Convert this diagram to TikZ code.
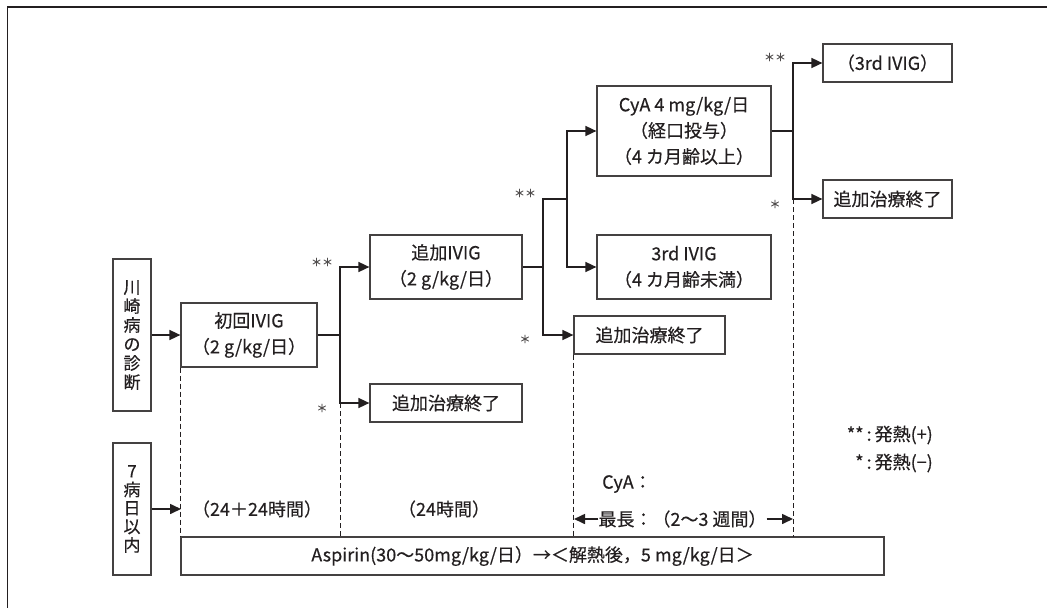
\documentclass[tikz,border=0pt]{standalone}
\usepackage{fontspec}
\setmainfont{Noto Sans CJK JP}[FakeBold=0.4]
\usetikzlibrary{arrows.meta}
\definecolor{ink}{HTML}{231F20}
\begin{document}
\begin{tikzpicture}[x=1pt,y=-1pt,
  box/.style={draw=ink!85, line width=1.2pt, inner sep=0pt, align=center, text=ink,
    font=\fontsize{18}{26}\selectfont},
  vbox/.style={box, font=\fontsize{17}{19}\selectfont},
  conn/.style={draw=ink, line width=1.6pt},
  arr/.style={conn, -{Triangle[length=11pt,width=10pt]}},
  guide/.style={draw=ink, line width=0.8pt, dash pattern=on 5pt off 3pt},
  lbl/.style={text=ink, inner sep=0pt, font=\fontsize{18}{22}\selectfont},
  ast/.style={text=ink!80, inner sep=0pt, font=\fontsize{11}{13}\selectfont}]
\useasboundingbox (0,0) rectangle (1047,608);
\draw[draw=ink, line width=1.6pt] (1047,7) -- (7.5,7) -- (7.5,608);

% boxes
\node[vbox, minimum width=38pt, minimum height=152pt] (k) at (132,335) {川\\崎\\病\\の\\診\\断};
\node[vbox, minimum width=38pt, minimum height=132pt, font=\fontsize{17}{18.5}\selectfont] (d7) at (132,509) {7\\病\\日\\以\\内};
\node[box, minimum width=136pt, minimum height=64pt] (b1) at (249,335) {初回IVIG\\（2 g/kg/日）};
\node[box, minimum width=152pt, minimum height=64pt] (b2) at (446,267) {追加IVIG\\（2 g/kg/日）};
\node[box, minimum width=152pt, minimum height=38pt] (e1) at (446,403) {追加治療終了};
\node[box, minimum width=174pt, minimum height=90pt] (c) at (684,131) {CyA 4 mg/kg/日\\（経口投与）\\（4 カ月齢以上）};
\node[box, minimum width=174pt, minimum height=64pt] (t) at (684,267) {3rd IVIG\\（4 カ月齢未満）};
\node[box, minimum width=151pt, minimum height=38pt] (e2) at (649.5,335) {追加治療終了};
\node[box, minimum width=129pt, minimum height=38pt] (t3) at (887.5,63) {（3rd IVIG）};
\node[box, minimum width=129pt, minimum height=38pt] (e3) at (887.5,199) {追加治療終了};
\node[box, minimum width=703pt, minimum height=38pt] (asp) at (532.5,556) {Aspirin(30～50mg/kg/日）→＜解熱後，5 mg/kg/日＞};

% junctions
\coordinate (j0) at (181,509);
\coordinate (s1) at (340,335);
\coordinate (s2) at (543,267);
\coordinate (s2a) at (543,199);
\coordinate (s3) at (567,199);
\coordinate (s4) at (793,131);

% connectors
\draw[arr] (k.east) -- (b1.west);
\draw[arr] (d7.east |- j0) -- (j0);
\draw[conn] (b1.east) -- (s1);
\draw[arr] (s1) |- (b2.west);
\draw[arr] (s1) |- (e1.west);
\draw[conn] (b2.east) -- (s2);
\draw[arr] (s2) |- (e2.west);
\draw[conn] (s2) -- (s2a) -- (s3);
\draw[arr] (s3) |- (c.west);
\draw[arr] (s3) |- (t.west);
\draw[conn] (c.east) -- (s4);
\draw[arr] (s4) |- (t3.west);
\draw[arr] (s4) |- (e3.west);

% dashed guides
\draw[guide] (b1.south west) -- (b1.south west |- asp.north);
\draw[guide] (340,403) -- (340,537);
\draw[guide] (e2.south west) -- (e2.south west |- asp.north);
\draw[guide] (793,199) -- (793,537);

% asterisks
\node[ast] (a1) at (322,262) {＊＊};
\node[ast] (a2) at (322,408) {＊};
\node[ast] (a3) at (525,193) {＊＊};
\node[ast] (a4) at (525,339) {＊};
\node[ast] (a5) at (775,57) {＊＊};
\node[ast] (a6) at (775,204) {＊};

% time labels
\node[lbl] (h1) at (257,509) {（24＋24時間）};
\node[lbl] (h2) at (444,509) {（24時間）};
\node[lbl, anchor=west] (cya) at (602,484) {CyA：};
\node[lbl] (mx) at (682.5,519) {最長：（2～3 週間）};
\coordinate (ml) at (574,519);
\coordinate (mr) at (793,519);
\draw[arr] (mx.west) -- (ml);
\draw[arr] (mx.east) -- (mr);

% legend
\node[lbl, anchor=east] (lg1) at (933,435) {**\,:\,発熱(+)};
\node[lbl, anchor=east] (lg2) at (933,463) {*\,:\,発熱(−)};
\end{tikzpicture}
\end{document}
